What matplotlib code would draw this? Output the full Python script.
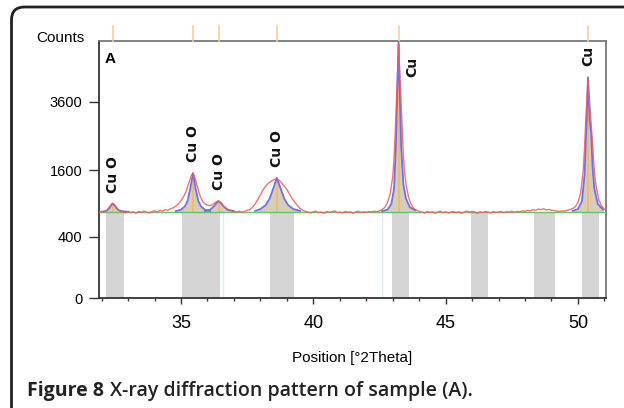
import numpy as np
import matplotlib
matplotlib.use("Agg")
import matplotlib.pyplot as plt
from matplotlib import font_manager
from matplotlib.path import Path
from matplotlib.patches import PathPatch

obs_x = [31.90, 32.00, 32.10, 32.20, 32.30, 32.40, 32.50, 32.60, 32.70, 32.80, 32.90, 33.00,
         33.10, 33.20, 33.30, 33.40, 33.50, 33.60, 33.70, 33.80, 33.90, 34.00, 34.10, 34.20,
         34.30, 34.40, 34.50, 34.60, 34.70, 34.80, 34.90, 35.00, 35.10, 35.20, 35.30, 35.40,
         35.45, 35.50, 35.60, 35.70, 35.80, 35.90, 36.00, 36.10, 36.20, 36.30, 36.40, 36.50,
         36.60, 36.70, 36.80, 36.90, 37.00, 37.10, 37.20, 37.30, 37.40, 37.50, 37.60, 37.70,
         37.80, 37.90, 38.00, 38.10, 38.20, 38.30, 38.40, 38.50, 38.60, 38.70, 38.80, 38.90,
         39.00, 39.10, 39.20, 39.30, 39.40, 39.50, 39.60, 39.70, 39.80, 39.90, 40.00, 40.10,
         40.20, 40.30, 40.40, 40.50, 40.60, 40.70, 40.80, 40.90, 41.00, 41.10, 41.20, 41.30,
         41.40, 41.50, 41.60, 41.70, 41.80, 41.90, 42.00, 42.10, 42.20, 42.30, 42.40, 42.50,
         42.60, 42.70, 42.80, 42.90, 43.00, 43.05, 43.10, 43.15, 43.22, 43.30, 43.35, 43.40,
         43.45, 43.50, 43.60, 43.70, 43.80, 43.90, 44.00, 44.10, 44.20, 44.30, 44.40, 44.50,
         44.60, 44.70, 44.80, 44.90, 45.00, 45.10, 45.20, 45.30, 45.40, 45.50, 45.60, 45.70,
         45.80, 45.90, 46.00, 46.10, 46.20, 46.30, 46.40, 46.50, 46.60, 46.70, 46.80, 46.90,
         47.00, 47.10, 47.20, 47.30, 47.40, 47.50, 47.60, 47.70, 47.80, 47.90, 48.00, 48.10,
         48.20, 48.30, 48.40, 48.50, 48.60, 48.70, 48.80, 48.90, 49.00, 49.10, 49.20, 49.30,
         49.40, 49.50, 49.60, 49.70, 49.80, 49.90, 50.00, 50.10, 50.20, 50.25, 50.30, 50.38,
         50.45, 50.50, 50.55, 50.60, 50.65, 50.70, 50.80, 50.90, 51.00, 51.06]
obs_y = [755, 770, 765, 790, 850, 915, 880, 810, 775, 760, 745, 770,
         750, 765, 740, 770, 755, 775, 760, 745, 770, 780, 760, 790,
         775, 800, 790, 815, 830, 860, 900, 960, 1040, 1150, 1330, 1500,
         1530, 1480, 1280, 1080, 960, 900, 880, 870, 890, 930, 960, 930,
         870, 830, 800, 785, 770, 760, 775, 755, 770, 790, 800, 840,
         900, 980, 1070, 1170, 1250, 1310, 1350, 1390, 1410, 1380, 1320, 1250,
         1180, 1090, 1000, 930, 870, 820, 790, 770, 760, 745, 765, 775,
         750, 760, 740, 770, 755, 765, 780, 750, 760, 745, 770, 755,
         765, 740, 760, 775, 750, 765, 755, 770, 760, 775, 765, 780,
         800, 840, 920, 1080, 1450, 1900, 2700, 3900, 5850, 3900, 2800, 2000,
         1550, 1300, 1020, 890, 820, 790, 770, 760, 745, 770, 755, 765,
         740, 760, 775, 750, 765, 745, 760, 770, 750, 765, 740, 760,
         775, 755, 770, 760, 740, 765, 750, 770, 760, 745, 765, 755,
         760, 770, 750, 765, 760, 775, 755, 770, 765, 780, 770, 790,
         780, 800, 790, 810, 800, 815, 795, 805, 790, 785, 775, 770,
         780, 775, 790, 800, 820, 850, 930, 1100, 1600, 2200, 3100, 4450,
         3500, 2900, 2300, 1750, 1400, 1200, 960, 860, 810, 790]

# fitted peak profiles (blue)
fit1_x = [32.00, 32.10, 32.20, 32.30, 32.35, 32.42, 32.50, 32.55, 32.65, 32.80, 33.00]
fit1_y = [765, 770, 785, 830, 870, 905, 870, 830, 790, 772, 765]
fit2_x = [34.80, 35.00, 35.15, 35.25, 35.35, 35.45, 35.55, 35.65, 35.75, 35.90, 36.10]
fit2_y = [775, 800, 860, 960, 1200, 1540, 1200, 960, 860, 800, 775]
fit3_x = [35.90, 36.10, 36.25, 36.35, 36.42, 36.50, 36.60, 36.75, 37.00]
fit3_y = [775, 800, 860, 920, 950, 920, 860, 800, 775]
fit4_x = [37.80, 38.00, 38.20, 38.35, 38.50, 38.62, 38.75, 38.90, 39.05, 39.25, 39.50]
fit4_y = [780, 810, 880, 1000, 1220, 1430, 1220, 1000, 880, 810, 780]
fit5_x = [42.60, 42.80, 42.95, 43.05, 43.12, 43.17, 43.22, 43.27, 43.32, 43.40, 43.50, 43.65, 43.85]
fit5_y = [775, 800, 900, 1200, 2200, 3800, 6000, 3800, 2200, 1300, 1000, 840, 790]
fit6_x = [49.80, 50.00, 50.15, 50.25, 50.32, 50.38, 50.44, 50.50, 50.55, 50.62, 50.75, 50.95]
fit6_y = [780, 810, 950, 1500, 2800, 4500, 3000, 2600, 1700, 1200, 900, 800]

background = 765

# reference peaks and labels
peak_pos = [32.42, 35.45, 36.42, 38.62, 43.22, 50.38]
peak_height = [905, 1540, 950, 1430, 6000, 4500]
peak_label = ["Cu O", "Cu O", "Cu O", "Cu O", "Cu", "Cu"]

# grey fit regions
band_lo = [32.18, 35.04, 38.36, 42.98, 45.96, 48.34, 50.15]
band_hi = [32.83, 36.47, 39.26, 43.62, 46.60, 49.13, 50.79]
band_top = 745
marker_x = [36.59, 42.60]

yticks = [0, 400, 1600, 3600]


def pick_font(names):
    for name in names:
        try:
            font_manager.findfont(name, fallback_to_default=False)
            return name
        except ValueError:
            continue
    return "DejaVu Sans"


narrow = pick_font(["Liberation Sans Narrow", "DejaVu Sans Condensed", "Liberation Sans"])
caption_font = pick_font(["Open Sans", "Noto Sans", "DejaVu Sans"])


def fwd(v):
    return np.power(np.clip(v, 0, None), 0.53)


def inv(v):
    return np.power(np.clip(v, 0, None), 1 / 0.53)


fig = plt.figure(figsize=(6.24, 4.08), dpi=100)
ax = fig.add_axes([99 / 624, 110 / 408, 507 / 624, 257 / 408])

# outer frame: left edge and top edge with a rounded corner, cut by the image border
left, top, r = 0.115, 4.01, 0.13
verts = [(left, -0.05), (left, top - r), (left, top), (left + r, top), (6.30, top)]
codes = [Path.MOVETO, Path.LINETO, Path.CURVE3, Path.CURVE3, Path.LINETO]
frame = PathPatch(Path(verts, codes), transform=fig.dpi_scale_trans, fill=False, lw=2.0,
                  ec="#222222", clip_on=False)
fig.patches.append(frame)

ax.set_yscale("function", functions=(fwd, inv))
ax.set_xlim(31.9, 51.06)
ax.set_ylim(0, 6000)

for lo, hi in zip(band_lo, band_hi):
    ax.bar((lo + hi) / 2, band_top, width=hi - lo, color="#d5d5d5", lw=0, zorder=1)
for mx in marker_x:
    ax.plot([mx, mx], [0, band_top], color="#d6ecf8", lw=1.0, zorder=1)

fits = [(fit1_x, fit1_y), (fit2_x, fit2_y), (fit3_x, fit3_y),
        (fit4_x, fit4_y), (fit5_x, fit5_y), (fit6_x, fit6_y)]
for fx, fy in fits:
    ax.fill_between(fx, background, fy, color="#d8cdb6", lw=0, zorder=2)

for px, ph in zip(peak_pos, peak_height):
    ax.plot([px, px], [background, ph * 0.97], color="#eeb877", lw=1.2, zorder=3)
    ax.plot([px, px], [1.0, 1.06], transform=ax.get_xaxis_transform(), color="#f6cf98",
            lw=1.2, clip_on=False, zorder=3)

ax.axhline(background, color="#6cc06c", lw=1.0, zorder=3)
for fx, fy in fits:
    ax.plot(fx, fy, color="#6f6fe8", lw=1.3, zorder=4)
ax.plot(obs_x, obs_y, color="#f05a5a", lw=1.0, alpha=0.85, zorder=5)

for px, ph, lab in zip(peak_pos, peak_height, peak_label):
    if ph > 5000:
        ax.annotate(lab, (px, 5300), xytext=(10, 0), textcoords="offset points",
                    rotation=90, ha="center", va="top", fontsize=10, fontweight="bold",
                    color="#111111")
    else:
        ax.annotate(lab, (px, ph), xytext=(0, 8), textcoords="offset points",
                    rotation=90, ha="center", va="bottom", fontsize=10, fontweight="bold",
                    color="#111111")

ax.text(0.012, 0.93, "A", transform=ax.transAxes, fontsize=11, fontweight="bold",
        family=narrow, va="center", ha="left")

ax.set_yticks(yticks)
ax.set_yticklabels([str(t) for t in yticks], family=narrow, fontsize=10.5)
ax.set_xticks([35, 40, 45, 50])
ax.set_xticklabels(["35", "40", "45", "50"], family=narrow, fontsize=13)
ax.set_xticks(np.arange(32, 52, 1), minor=True)
ax.tick_params(axis="y", direction="out", length=7, width=1, pad=5, color="#333333")
ax.tick_params(axis="x", which="major", direction="out", length=4, width=1, pad=8,
               color="#333333")
ax.tick_params(axis="x", which="minor", direction="out", length=2.5, width=1, color="#333333")

for side in ["left", "bottom"]:
    ax.spines[side].set_color("#333333")
    ax.spines[side].set_linewidth(1.3)
for side in ["top", "right"]:
    ax.spines[side].set_color("#777777")
    ax.spines[side].set_linewidth(1.3)

ax.set_xlabel("Position [°2Theta]", family=narrow, fontsize=11, labelpad=14)
fig.text(60 / 624, 1 - 38 / 408, "Counts", family=narrow, fontsize=11, ha="center",
         va="center")

# caption
cap_y = 1 - 391 / 408
t1 = fig.text(27 / 624, cap_y, "Figure 8", family=caption_font, fontsize=14,
              fontweight="bold", va="center", ha="left", color="#222222")
fig.canvas.draw()
bb = t1.get_window_extent()
fig.text((bb.x1 + 6) / 624, cap_y, "X-ray diffraction pattern of sample (A).",
         family=caption_font, fontsize=14, fontweight="semibold", va="center", ha="left",
         color="#222222")

fig.savefig("out.png", dpi=100)
